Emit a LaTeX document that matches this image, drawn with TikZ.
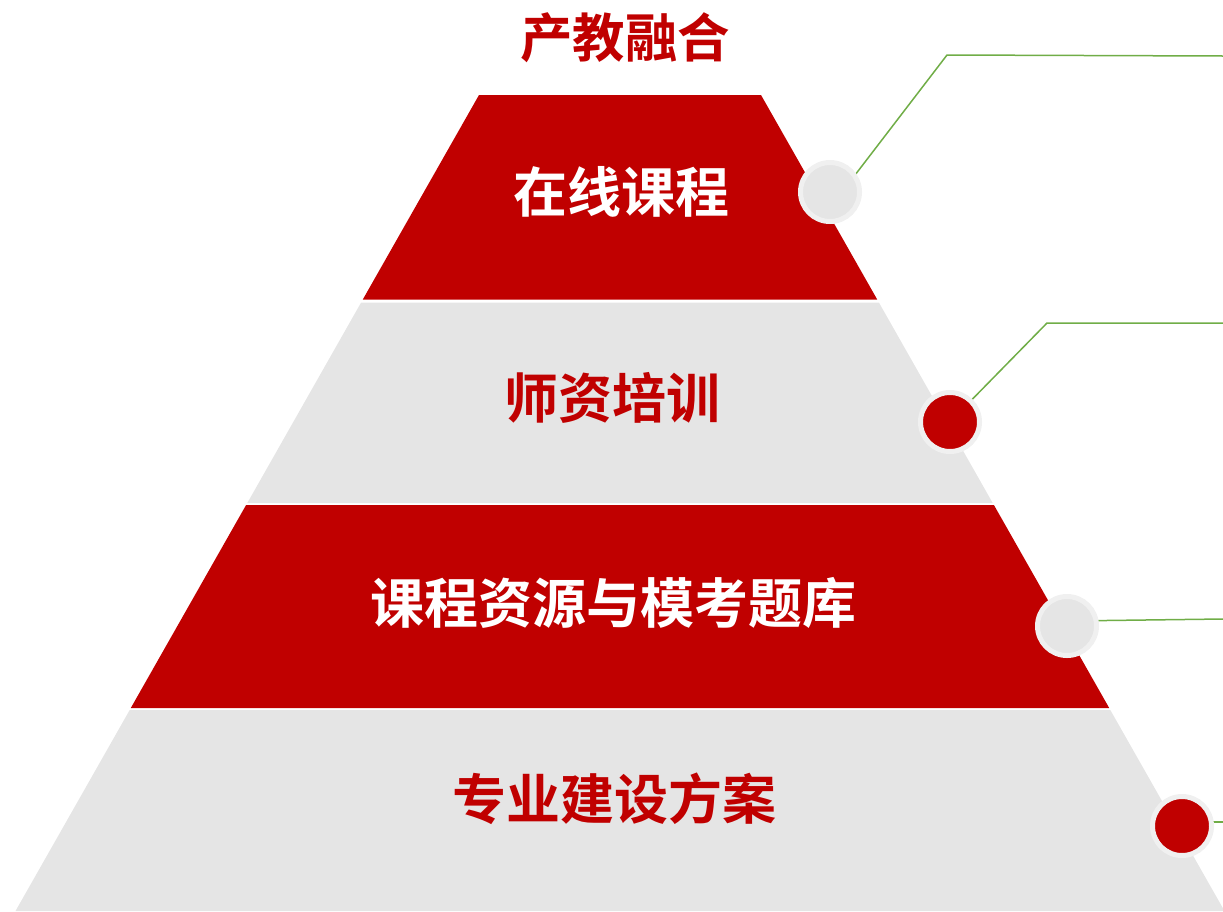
\documentclass[tikz,border=0pt]{standalone}
\usepackage{fontspec}
\newfontfamily\cjk{Noto Sans CJK SC}[BoldFont={* Bold}]
\definecolor{pred}{HTML}{C00000}
\definecolor{pgray}{HTML}{E5E5E5}
\definecolor{pring}{HTML}{F0F0F0}
\definecolor{pgreen}{HTML}{70AD47}
\tikzset{
  redlayer/.style={fill=pred, draw=none},
  graylayer/.style={fill=pgray, draw=none},
  lbl/.style={font=\cjk\bfseries\fontsize{54}{60}\selectfont, inner sep=0pt, anchor=center},
  dotgray/.style={circle, inner sep=0pt, minimum size=59pt, line width=5pt, draw=pring, fill=pgray},
  dotred/.style={circle, inner sep=0pt, minimum size=59pt, line width=5pt, draw=pring, fill=pred},
  leader/.style={draw=pgreen, line width=1.5pt}
}
\begin{document}
\begin{tikzpicture}[x=1pt,y=-1pt]
\useasboundingbox (0,0) rectangle (1223,911);
% layers
\fill[redlayer]  (479,95) -- (761,95) -- (877.2,299.5) -- (362.8,299.5) -- cycle;
\fill[graylayer] (361.1,302.5) -- (878.9,302.5) -- (992.7,503) -- (247.3,503) -- cycle;
\fill[redlayer]  (246.1,505) -- (993.9,505) -- (1109.2,708) -- (130.8,708) -- cycle;
\fill[graylayer] (129.7,710) -- (1110.3,710) -- (1224.5,911) -- (15.5,911) -- cycle;
% labels
\node[lbl, text=pred, font=\cjk\bfseries\fontsize{52.5}{58}\selectfont] (title) at (625,38) {产教融合};
\node[lbl, text=white] (l1) at (621,192) {在线课程};
\node[lbl, text=pred]  (l2) at (612,398) {师资培训};
\node[lbl, text=white] (l3) at (613,603) {课程资源与模考题库};
\node[lbl, text=pred]  (l4) at (614,799) {专业建设方案};
% circle positions and leader points
\path (830,192) coordinate (p1) (950,422) coordinate (p2) (1067,626) coordinate (p3) (1182,826) coordinate (p4);
\coordinate (s1) at (842,192);
\coordinate (s3) at (1067,621);
\coordinate (s4) at (1182,822);
\coordinate (b1) at (947,55);
\coordinate (e1) at (1223,56);
\coordinate (b2) at (1047,323);
\coordinate (e2) at (1223,323);
\coordinate (e3) at (1223,619);
\coordinate (e4) at (1223,822);
\draw[leader] (s1) -- (b1) -- (e1);
\draw[leader] (p2) -- (b2) -- (e2);
\draw[leader] (s3) -- (e3);
\draw[leader] (s4) -- (e4);
\node[dotgray] (c1) at (p1) {};
\node[dotred]  (c2) at (p2) {};
\node[dotgray] (c3) at (p3) {};
\node[dotred]  (c4) at (p4) {};
\end{tikzpicture}
\end{document}
